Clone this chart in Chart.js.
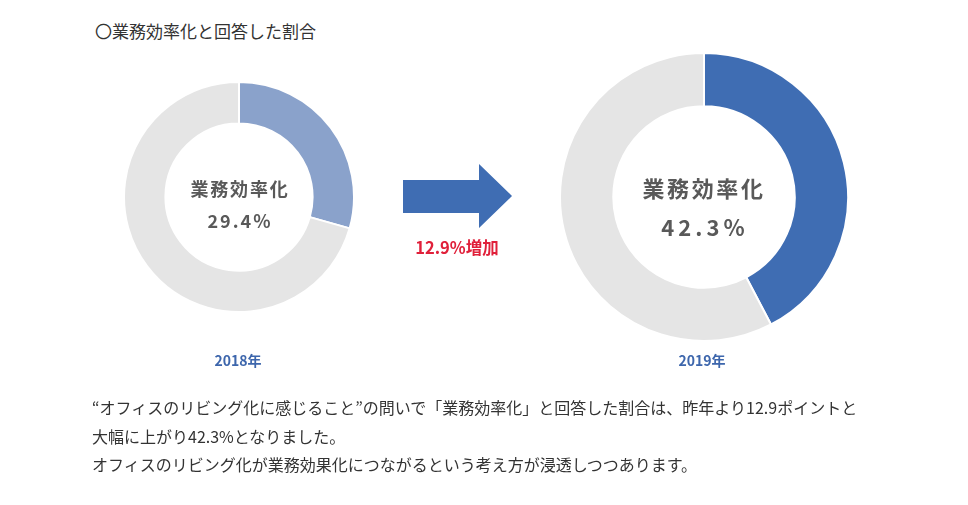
<!DOCTYPE html>
<html><head><meta charset="utf-8">
<script src="https://cdn.jsdelivr.net/npm/chart.js@4/dist/chart.umd.min.js"></script>
<style>
html,body{margin:0;padding:0;background:#fff;width:968px;height:505px;overflow:hidden;font-family:"Noto Sans CJK JP","Noto Sans",sans-serif;}
.abs{position:absolute;}
#title{left:95px;top:18px;font-size:17px;color:#333;white-space:nowrap;}
.ctr{color:#595959;font-weight:bold;text-align:center;white-space:nowrap;transform:translateX(-50%);}
.year{color:#3d66ac;font-weight:bold;font-size:14px;transform:translateX(-50%);white-space:nowrap;}
#inc{left:457px;top:235px;color:#e0203a;font-weight:bold;font-size:16.5px;transform:translateX(-50%);white-space:nowrap;}
#body{left:92px;top:393px;font-size:16px;color:#333;line-height:28.5px;white-space:nowrap;}
</style></head>
<body>
<div class="abs" id="title">〇業務効率化と回答した割合</div>
<div class="abs" style="left:123px;top:81px;width:232px;height:232px;"><canvas id="c1"></canvas></div>
<div class="abs" style="left:559px;top:52px;width:290px;height:290px;"><canvas id="c2"></canvas></div>
<div class="abs ctr" id="l1" style="left:240px;top:175px;font-size:18px;letter-spacing:1.8px;"></div>
<div class="abs ctr" id="v1" style="left:240px;top:207px;font-size:18px;letter-spacing:2px;"></div>
<div class="abs ctr" id="l2" style="left:704px;top:171px;font-size:22px;letter-spacing:2.6px;"></div>
<div class="abs ctr" id="v2" style="left:705px;top:210px;font-size:22px;letter-spacing:4px;"></div>
<svg class="abs" style="left:0;top:0" width="968" height="505">
<polygon points="403,180 479,180 479,164 512,196 479,228 479,213 403,213" fill="#3f6db3"/>
</svg>
<div class="abs" id="inc"></div>
<div class="abs year" id="y1" style="left:238px;top:350px;"></div>
<div class="abs year" id="y2" style="left:702px;top:350px;"></div>
<div class="abs" id="body">“オフィスのリビング化に感じること”の問いで「業務効率化」と回答した割合は、昨年より12.9ポイントと<br>大幅に上がり42.3%となりました。<br>オフィスのリビング化が業務効果化につながるという考え方が浸透しつつあります。</div>
<script>
const years = ["2018年", "2019年"];
const categories = ["業務効率化", "その他"];
const values2018 = [29.4, 70.6];
const values2019 = [42.3, 57.7];
const increaseLabel = "12.9%増加";

function donut(id, vals, color, cut) {
  new Chart(document.getElementById(id), {
    type: 'doughnut',
    data: { labels: categories, datasets: [{ data: vals, backgroundColor: [color, '#e5e5e5'], borderColor: '#ffffff', borderWidth: 2 }] },
    options: { responsive: true, maintainAspectRatio: false, animation: false, cutout: cut,
      plugins: { legend: { display: false }, tooltip: { enabled: false } } }
  });
}
donut('c1', values2018, '#8aa2cb', '64%');
donut('c2', values2019, '#3f6db3', '63%');
document.getElementById('l1').textContent = categories[0];
document.getElementById('l2').textContent = categories[0];
document.getElementById('v1').textContent = values2018[0].toFixed(1) + '%';
document.getElementById('v2').textContent = values2019[0].toFixed(1) + '%';
document.getElementById('y1').textContent = years[0];
document.getElementById('y2').textContent = years[1];
document.getElementById('inc').textContent = increaseLabel;
</script>
</body></html>
